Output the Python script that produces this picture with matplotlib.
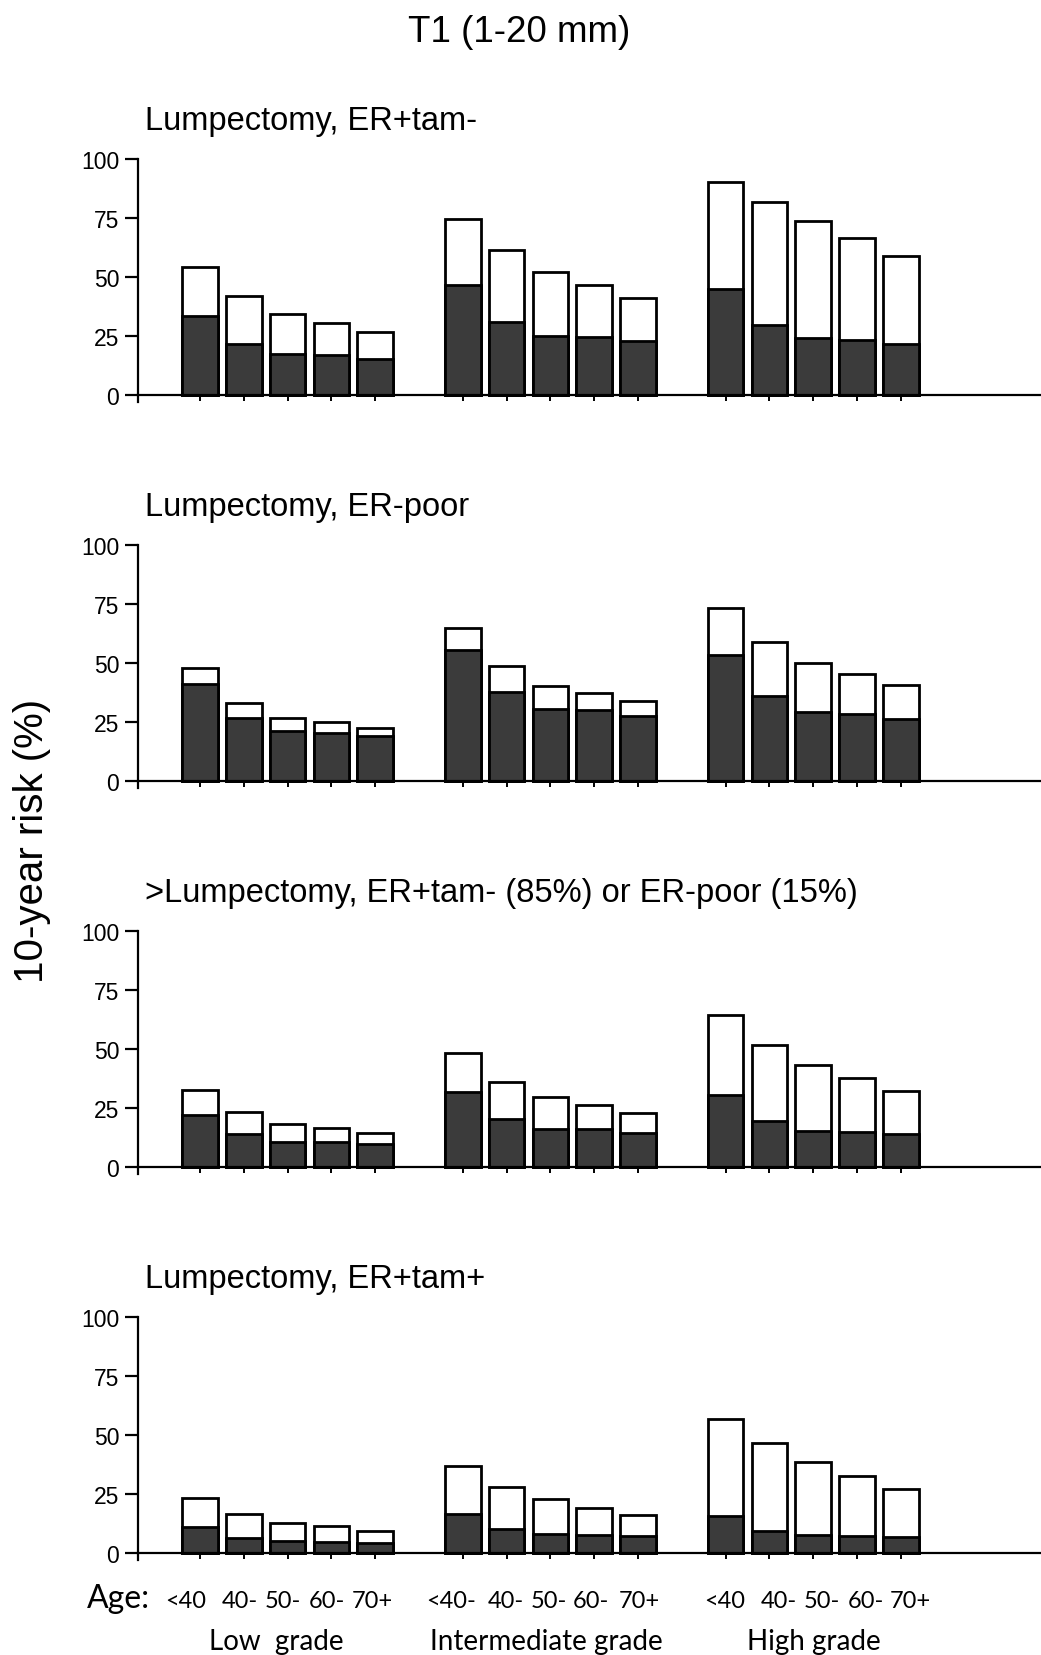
import matplotlib
matplotlib.use("Agg")
import matplotlib.pyplot as plt
import numpy as np

plt.rcParams['font.family'] = ['Liberation Sans', 'DejaVu Sans']

# ---------------- data ----------------
main_title = "T1 (1-20 mm)"
panel_titles = [
    "Lumpectomy, ER+tam-",
    "Lumpectomy, ER-poor",
    ">Lumpectomy, ER+tam- (85%) or ER-poor (15%)",
    "Lumpectomy, ER+tam+",
]
grades = ["Low  grade", "Intermediate grade", "High grade"]
age_labels_low = ["<40", "40-", "50-", "60-", "70+"]
age_labels_int = ["<40-", "40-", "50-", "60-", "70+"]
age_labels_high = ["<40", "40-", "50-", "60-", "70+"]
y_label = "10-year risk (%)"
yticks = [0, 25, 50, 75, 100]

# total risk (top of white bar) per panel: low(5), intermediate(5), high(5)
total_p1 = [54.4, 41.8, 34.3, 30.6, 26.7, 74.6, 61.3, 52.3, 46.8, 41.1, 90.1, 81.9, 73.9, 66.4, 58.8]
dark_p1 = [33.6, 21.6, 17.2, 16.9, 15.3, 46.8, 31.1, 25.1, 24.7, 22.7, 44.8, 29.7, 24.0, 23.4, 21.6]

total_p2 = [47.7, 33.1, 26.9, 25.2, 22.6, 65.0, 48.6, 40.3, 37.4, 34.0, 73.5, 58.9, 49.9, 45.2, 40.7]
dark_p2 = [41.0, 26.5, 21.3, 20.5, 19.2, 55.3, 37.8, 30.6, 29.9, 27.6, 53.3, 36.0, 29.3, 28.3, 26.3]

total_p3 = [32.8, 23.1, 18.2, 16.6, 14.5, 48.5, 36.2, 29.5, 26.2, 22.8, 64.4, 51.6, 43.4, 37.9, 32.3]
dark_p3 = [22.1, 14.0, 10.6, 10.5, 9.8, 31.9, 20.3, 16.3, 15.9, 14.6, 30.6, 19.3, 15.3, 14.9, 13.9]

total_p4 = [23.1, 16.7, 12.9, 11.3, 9.3, 36.8, 27.8, 22.7, 19.1, 16.1, 56.7, 46.5, 38.7, 32.6, 27.1]
dark_p4 = [11.0, 6.4, 5.0, 4.8, 4.4, 16.4, 10.1, 8.1, 7.8, 7.4, 15.7, 9.5, 7.5, 7.1, 6.8]

totals = [total_p1, total_p2, total_p3, total_p4]
darks = [dark_p1, dark_p2, dark_p3, dark_p4]

# ---------------- layout ----------------
W, H = 1041, 1656
fig = plt.figure(figsize=(W / 100, H / 100), dpi=100)

dark_color = "#3b3b3b"
lw = 2.0
positions = np.array([g * 6 + i for g in range(3) for i in range(5)], dtype=float)

x_left_px = 138.0
x0_px = 200.0
pitch_px = 43.8
xlim = ((x_left_px - x0_px) / pitch_px, (W - x0_px) / pitch_px)
ppu = 2.36  # pixels per risk unit
ybot = -3.0

for k in range(4):
    zero_px = 396 + 386 * k
    top_px = zero_px - 100 * ppu
    bottom_px = zero_px - ybot * ppu
    ax = fig.add_axes([x_left_px / W, 1 - bottom_px / H,
                       (W - x_left_px) / W, (bottom_px - top_px) / H])
    ax.bar(positions, totals[k], width=0.81, color="white",
           edgecolor="black", linewidth=lw, zorder=2)
    ax.bar(positions, darks[k], width=0.81, color=dark_color,
           edgecolor="black", linewidth=lw, zorder=3)
    ax.set_xlim(*xlim)
    ax.set_ylim(ybot, 100)
    for s in ("top", "right"):
        ax.spines[s].set_visible(False)
    ax.spines["bottom"].set_position(("data", 0))
    ax.spines["bottom"].set_linewidth(1.6)
    ax.spines["left"].set_linewidth(1.6)
    ax.spines["bottom"].set_zorder(4)
    ax.set_xticks(positions)
    ax.set_xticklabels([])
    ax.tick_params(axis="x", direction="out", length=4.5, width=1.4)
    ax.set_yticks(yticks)
    ax.set_yticklabels([str(t) for t in yticks], fontsize=16.5)
    ax.tick_params(axis="y", direction="out", length=9.5, width=1.6, pad=4)
    ax.patch.set_alpha(0)
    fig.text(145 / W, 1 - (top_px - 30) / H, panel_titles[k], ha="left",
             va="baseline", fontsize=23.5)

# main title
fig.text(519 / W, 1 - 42 / H, main_title, ha="center", va="baseline", fontsize=26.5)

# y label
fig.text(32 / W, 1 - 841 / H, y_label, rotation=90, ha="center", va="center", fontsize=29)

# bottom labels
bfont = ['Lato', 'DejaVu Sans']
age_centers_px = [186, 240, 283, 327, 372, 451, 506, 549, 591, 639, 724.5, 779, 822, 866, 910]
age_labels = age_labels_low + age_labels_int + age_labels_high
for cx, lab in zip(age_centers_px, age_labels):
    fig.text(cx / W, 1 - 1608 / H, lab, ha="center", va="baseline",
             fontsize=17, family=bfont)
fig.text(118 / W, 1 - 1608 / H, "Age:", ha="center", va="baseline",
         fontsize=23, family=bfont)
for cx, lab in zip([276, 546, 814], grades):
    fig.text(cx / W, 1 - 1650 / H, lab, ha="center", va="baseline",
             fontsize=20, family=bfont)

fig.savefig("out.png", dpi=100)
